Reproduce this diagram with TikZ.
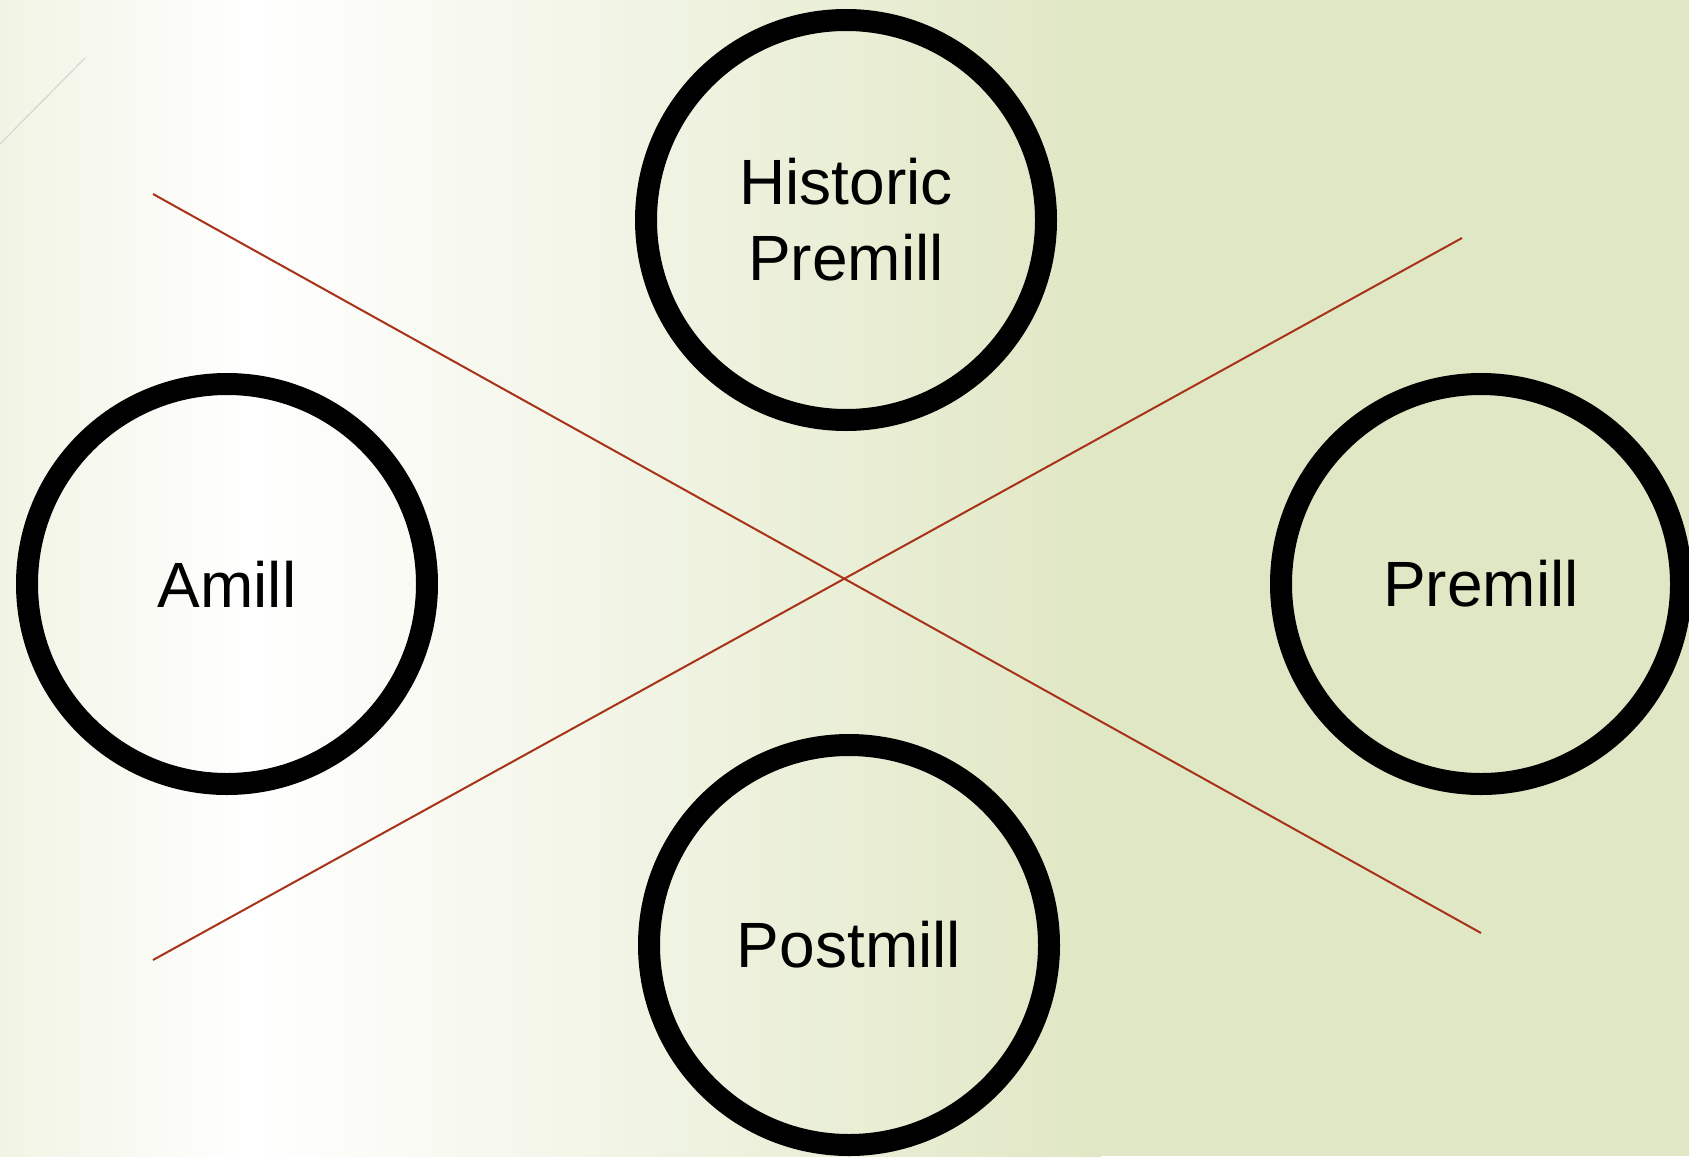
\documentclass[tikz,border=0pt]{standalone}
\usepackage{fontspec}
\setmainfont{Liberation Sans}
\usepackage{xcolor}
\definecolor{pagebg}{HTML}{E0E7C4}
\definecolor{pageleft}{HTML}{F1F4E4}
\definecolor{crosscolor}{HTML}{A83218}
\definecolor{tracecolor}{HTML}{D6D8D0}
\newcommand{\pagewidth}{1689}
\newcommand{\pageheight}{1156}

\tikzset{
  view/.style={circle, draw=black, line width=11pt, minimum size=200pt,
    inner sep=0pt, align=center, font=\fontsize{32}{38}\selectfont},
  cross/.style={crosscolor, line width=1pt}
}

\begin{document}
\begin{tikzpicture}[x=0.5pt, y=-0.5pt]
  % Background
  \useasboundingbox (0,0) rectangle (\pagewidth,\pageheight);
  \clip (0,0) rectangle (\pagewidth,\pageheight);
  \fill[pagebg] (0,0) rectangle (\pagewidth,\pageheight);
  \shade[left color=pageleft, right color=white] (0,0) rectangle (251,\pageheight);
  \shade[left color=white, right color=pagebg] (250,0) rectangle (1101,\pageheight);

  % Faint trace in the corner
  \draw[tracecolor, line width=0.6pt] (0,144) -- (85,58);

  % The cross
  \coordinate (nw) at (153,194);
  \coordinate (se) at (1481,933);
  \coordinate (sw) at (153,960);
  \coordinate (ne) at (1462,238);
  \draw[cross] (nw) -- (se);
  \draw[cross] (sw) -- (ne);

  % The four views
  \node[view] (historic) at (846,220) {Historic\\Premill};
  \node[view] (amill) at (227,584) {Amill};
  \node[view] (premill) at (1481,584) {Premill};
  \node[view] (postmill) at (849,945) {Postmill};
\end{tikzpicture}
\end{document}
